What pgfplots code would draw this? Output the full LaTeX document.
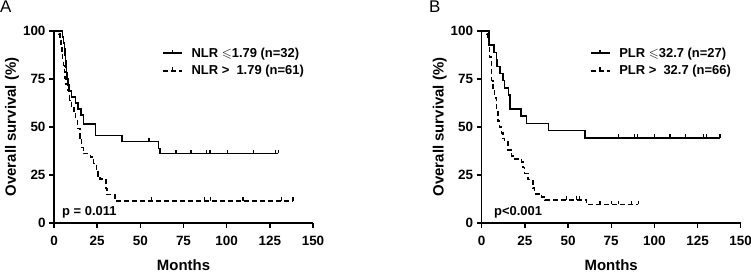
\documentclass[border=0pt]{standalone}
\usepackage{fontspec}
\setmainfont{Liberation Sans}
\usepackage{amssymb}
\usepackage{pgfplots}
\pgfplotsset{compat=1.18}
\pgfdeclareplotmark{cens}{\pgfpathmoveto{\pgfpoint{0pt}{0pt}}\pgfpathlineto{\pgfpoint{0pt}{3.5pt}}\pgfusepathqstroke}
\pgfplotsset{km/.style={
  scale only axis, width=259bp, height=192bp,
  xmin=0,xmax=150,ymin=0,ymax=100,
  axis lines=left, axis line style={-, line width=1.5bp},
  xtick={0,25,...,150}, ytick={0,25,50,75,100},
  tick align=outside, major tick length=5bp, tick style={line width=1.4bp, black},
  tick label style={font=\fontsize{13.5}{15}\selectfont\bfseries},
  xticklabel style={yshift=-4.5bp},
  /pgf/number format/assume math mode=true,
  xlabel={Months}, ylabel={Overall survival (\%)},
  label style={font=\fontsize{15}{17}\selectfont\bfseries},
  xlabel style={at={(axis description cs:0.5,-0.219)},anchor=center},
  ylabel style={at={(axis description cs:-0.162,0.5)},anchor=center},
  clip=false,
  legend style={draw=none, fill=none, font=\fontsize{13}{15}\selectfont\bfseries, row sep=3bp,
     at={(axis description cs:0.405,0.935)}, anchor=north west,
     /tikz/every odd column/.append style={column sep=7bp}},
  legend cell align=left,
  legend image code/.code={\draw[#1] (0bp,0bp) -- (19bp,0bp); \draw[#1,solid] (9.5bp,0bp) -- (9.5bp,3.5bp);},
  sol/.style={black, line width=1.5bp, const plot},
  das/.style={black, line width=1.5bp, const plot, dash pattern=on 5bp off 3bp},
  cen/.style={only marks, mark=cens, mark options={black, solid, line width=1.2bp}, forget plot},
}}
\begin{document}
\begin{tikzpicture}
\useasboundingbox (0,0) rectangle (751bp,272bp);
\node[anchor=north west, inner sep=0, font=\fontsize{17}{18}\selectfont] at (0bp,271bp) {A};
\node[anchor=north west, inner sep=0, font=\fontsize{17}{18}\selectfont] at (429bp,271bp) {B};
\begin{axis}[km, at={(54bp,49bp)}, anchor=south west]
\addplot[sol] coordinates {(0,100) (5,96.9) (5.5,93.8) (6,90.6) (6.3,87.5) (6.6,84.4) (6.9,81.3) (7.2,78.1) (7.5,75) (8,71.9) (8.8,68.8) (10,65.6) (12.5,62.5) (14,59.4) (15.5,56.3) (17,51.6) (24,45.5) (39.5,42.4) (60.5,38.8) (61.3,36.2) (130,36.2)};
\addlegendentry{NLR $\leqslant$1.79 (n=32)}
\addplot[das] coordinates {(0,100) (3,98.4) (3.5,95.1) (4,91.8) (4.5,88.5) (5,85.2) (5.5,82) (6,78.7) (6.5,75.4) (7,72.1) (8,68.9) (9,63.9) (10,60.7) (11.5,57.4) (12.5,54.1) (13.5,49.2) (15,44.3) (16,39.3) (17,36.1) (21,34.4) (23,31.1) (24.5,27.9) (25.5,24.6) (26.5,23) (30,18) (30.8,14.8) (35.3,13.1) (36.6,11.5) (138.4,11.5)};
\addlegendentry{NLR >\ \ 1.79 (n=61)}
\addplot[cen] coordinates {(55,42.4) (70.6,36.2) (79.3,36.2) (88.4,36.2) (90.3,36.2) (100.4,36.2) (115.4,36.2) (128.5,36.2) (129.9,36.2)};
\addplot[cen] coordinates {(56.5,11.5) (87,11.5) (90.6,11.5) (109.5,11.5) (131.7,11.5) (138.4,11.5)};
\node[anchor=west, inner sep=0, font=\fontsize{13}{15}\selectfont\bfseries] at (axis cs:4.6,5.7) {p = 0.011};
\end{axis}
\begin{axis}[km, at={(481.7bp,49bp)}, anchor=south west]
\addplot[sol] coordinates {(0,100) (4.2,92.6) (7,88.9) (8.5,85.2) (9,81.5) (10.5,77.8) (12.2,74.1) (13.3,70.4) (15.4,66.7) (16.4,59.3) (22.8,55.6) (25.9,51.9) (38.7,48.1) (59.8,44.4) (138,44.4)};
\addlegendentry{PLR $\leqslant$32.7 (n=27)}
\addplot[das] coordinates {(0,100) (3,98.5) (3.4,95.5) (3.8,92.4) (4.6,86.4) (5.6,74.2) (6.5,69.7) (7.5,65.2) (8.5,59.1) (9.4,53) (10.4,50) (11.4,47) (12.4,43.9) (13.3,42.4) (15.2,37.9) (17.2,34.8) (18,33.3) (23,31.8) (24,28.8) (24.9,25.8) (26.8,22.7) (29.7,18.2) (30.7,15.2) (34.5,13.6) (36.7,12.1) (60.8,9.7) (90.7,9.7)};
\addlegendentry{PLR >\ \ 32.7 (n=66)}
\addplot[cen] coordinates {(79,44.4) (88.5,44.4) (90,44.4) (100,44.4) (109,44.4) (118,44.4) (128.5,44.4) (130,44.4) (138,44.4)};
\addplot[cen] coordinates {(49,12.1) (55,12.1) (56.5,12.1) (68.5,9.7) (75.3,9.7) (79.1,9.7) (86.9,9.7) (90.7,9.7)};
\node[anchor=west, inner sep=0, font=\fontsize{13}{15}\selectfont\bfseries] at (axis cs:7.1,5.7) {p<0.001};
\end{axis}
\end{tikzpicture}
\end{document}
